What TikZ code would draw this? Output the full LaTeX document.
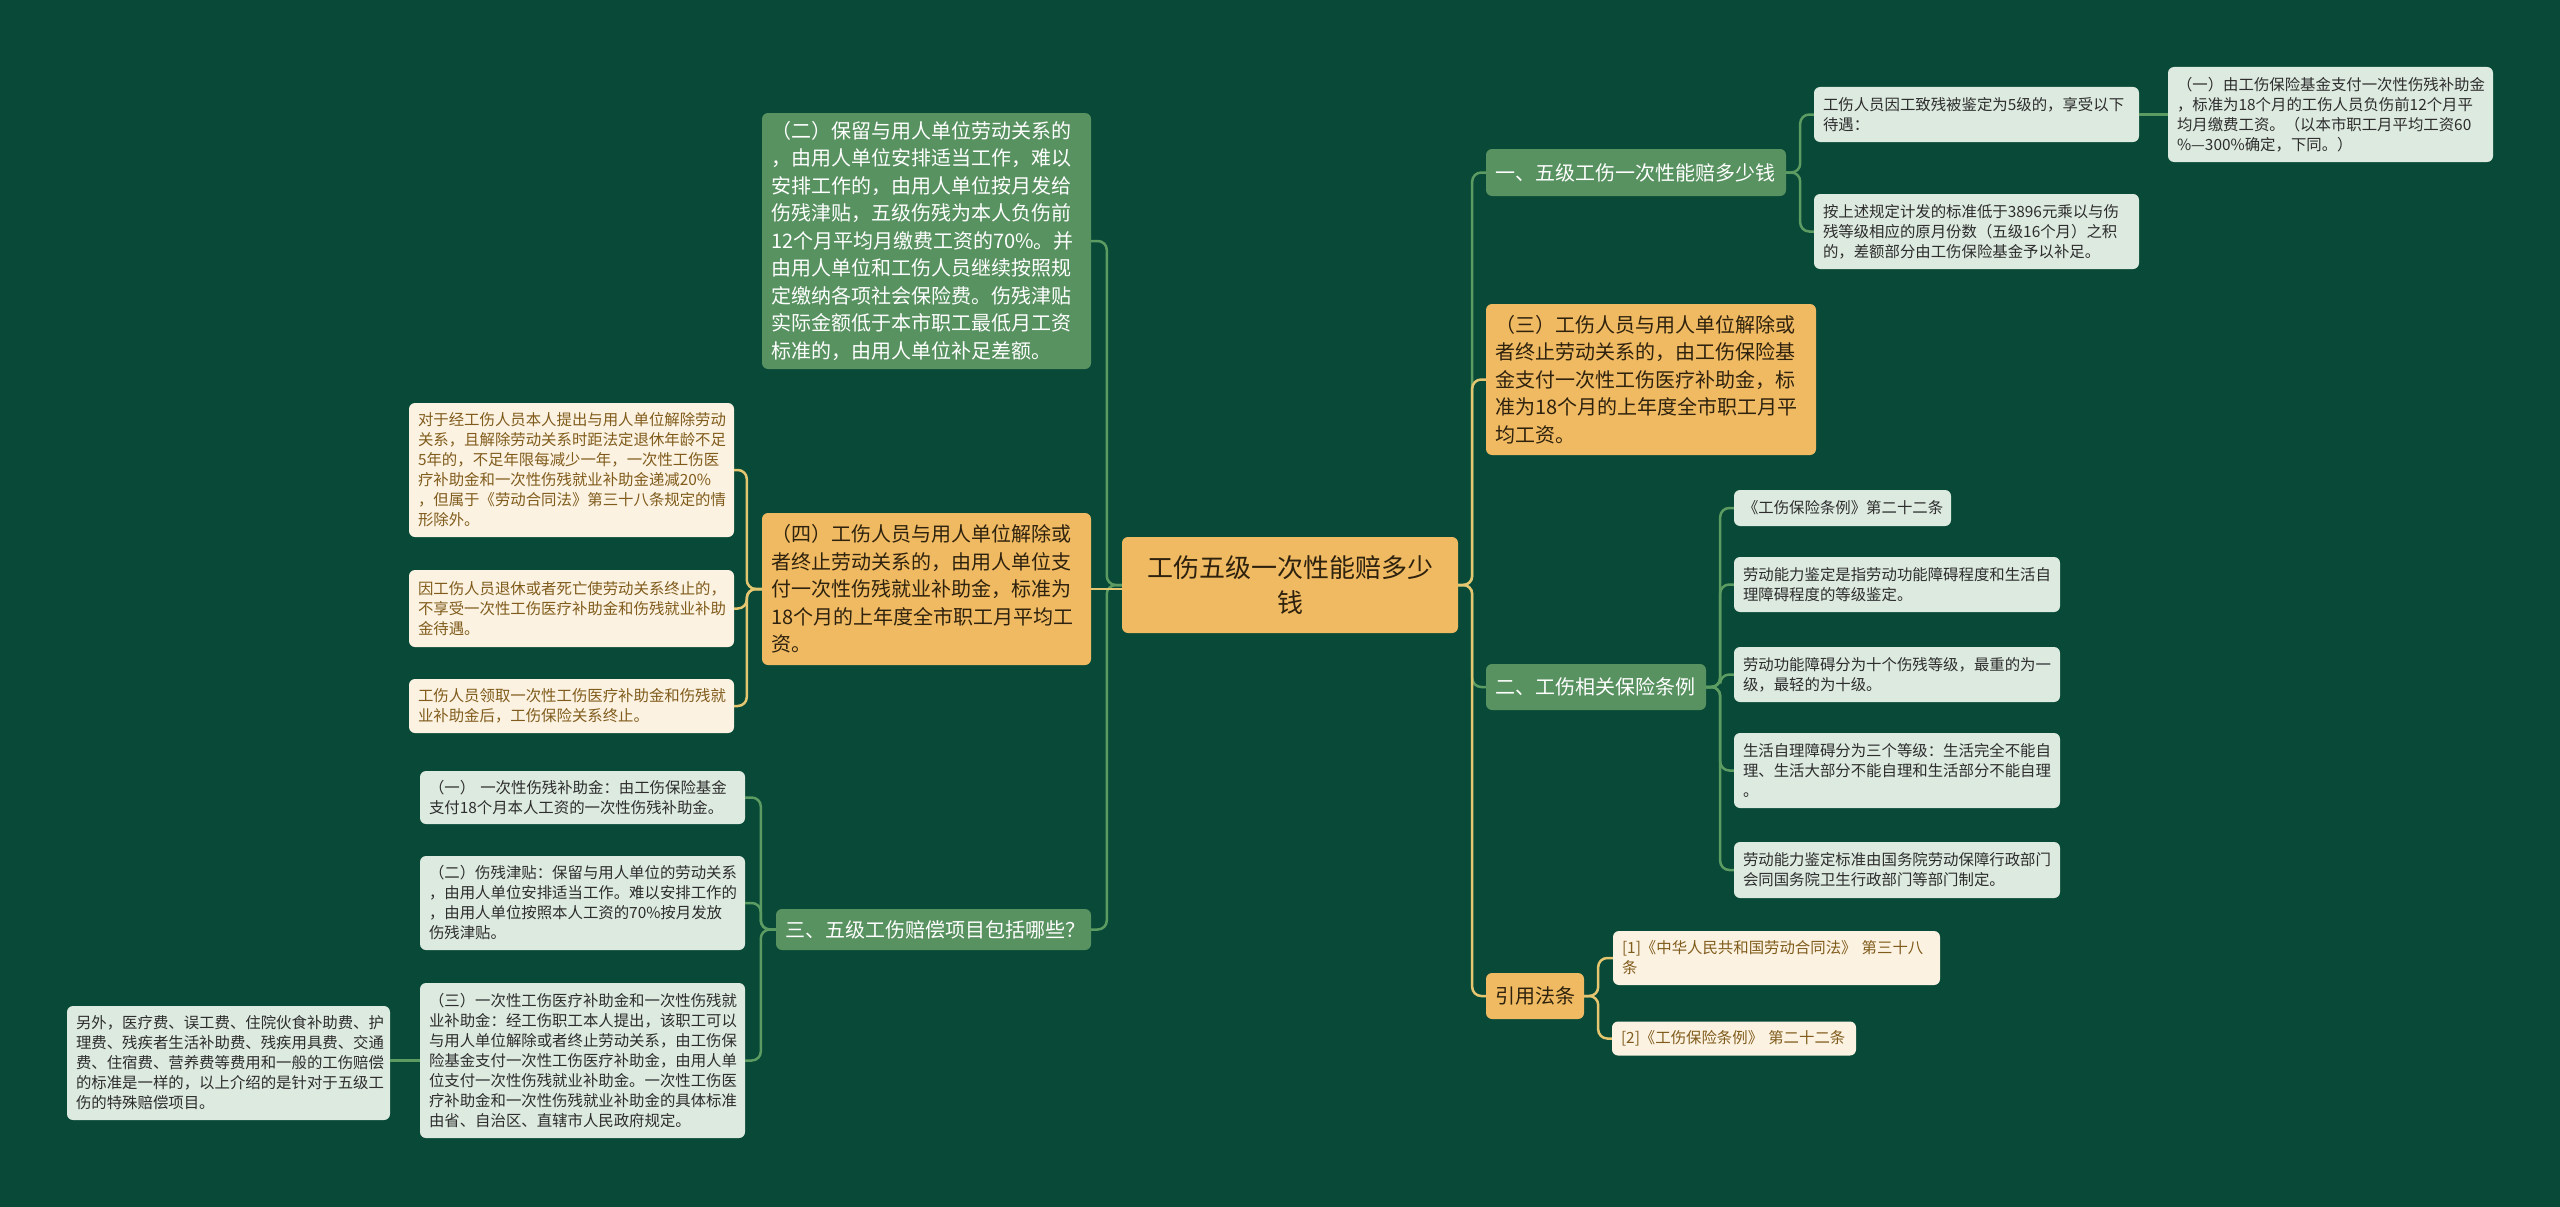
\documentclass[tikz,border=0pt]{standalone}
\usepackage{fontspec}
\setmainfont{Noto Sans CJK SC}
\definecolor{MapBg}{RGB}{8,73,55}
\definecolor{MapGreen}{RGB}{88,146,96}
\definecolor{MapOrange}{RGB}{240,186,98}
\definecolor{MapLight}{RGB}{221,234,224}
\definecolor{MapCream}{RGB}{252,242,226}
\definecolor{LineGreen}{RGB}{92,156,98}
\definecolor{LineGold}{RGB}{228,198,112}
\definecolor{InkBrown}{RGB}{46,34,14}
\definecolor{InkGold}{RGB}{128,92,28}
\definecolor{InkGray}{RGB}{45,45,45}
\usepackage{tikz}

\begin{document}
\begin{tikzpicture}[x=1pt, y=-1pt,
	box/.style={rounded corners=6pt, inner xsep=9pt, inner ysep=0pt, align=left},
	rootbox/.style={box, fill=MapOrange, text=InkBrown, align=center, font=\fontsize{26}{35}\selectfont},
	greenbox/.style={box, fill=MapGreen, text=white, font=\fontsize{20}{27.5}\selectfont},
	orangebox/.style={box, fill=MapOrange, text=InkBrown, font=\fontsize{20}{27.5}\selectfont},
	lightbox/.style={box, fill=MapLight, text=InkGray, font=\fontsize{15.4}{20}\selectfont},
	creambox/.style={box, fill=MapCream, text=InkGold, font=\fontsize{15.4}{20}\selectfont},
	conngreen/.style={draw=LineGreen, line width=2.5pt, rounded corners=9pt},
	conngold/.style={draw=LineGold, line width=2.5pt, rounded corners=9pt}]
	\useasboundingbox (0,0) rectangle (2560,1207);
	\fill[MapBg] (0,0) rectangle (2560,1207);

	\node[rootbox, text width=318pt, minimum height=96pt] (root) at (1290,585)
		{工伤五级一次性能赔多少\\钱};

	% rama derecha
	\node[greenbox, text width=282pt, minimum height=47pt] (g1) at (1636,172.5)
		{一、五级工伤一次性能赔多少钱};
	\node[lightbox, text width=307pt, minimum height=55pt] (r1a) at (1976.5,114.5)
		{工伤人员因工致残被鉴定为5级的，享受以下\\待遇：};
	\node[lightbox, text width=307pt, minimum height=75pt] (r1b) at (1976.5,231.5)
		{按上述规定计发的标准低于3896元乘以与伤\\残等级相应的原月份数（五级16个月）之积\\的，差额部分由工伤保险基金予以补足。};
	\node[lightbox, text width=307pt, minimum height=95pt] (r1c) at (2330.5,114.5)
		{（一）由工伤保险基金支付一次性伤残补助金\\，标准为18个月的工伤人员负伤前12个月平\\均月缴费工资。（以本市职工月平均工资60\\\%—300\%确定，下同。）};
	\node[orangebox, text width=312pt, minimum height=151pt] (o3) at (1651,379.5)
		{（三）工伤人员与用人单位解除或\\者终止劳动关系的，由工伤保险基\\金支付一次性工伤医疗补助金，标\\准为18个月的上年度全市职工月平\\均工资。};
	\node[greenbox, text width=202pt, minimum height=46pt] (g2) at (1596,687)
		{二、工伤相关保险条例};
	\node[lightbox, text width=199pt, minimum height=36pt] (r2a) at (1842.5,508)
		{《工伤保险条例》第二十二条};
	\node[lightbox, text width=308pt, minimum height=55pt] (r2b) at (1897,584.5)
		{劳动能力鉴定是指劳动功能障碍程度和生活自\\理障碍程度的等级鉴定。};
	\node[lightbox, text width=308pt, minimum height=55pt] (r2c) at (1897,674.5)
		{劳动功能障碍分为十个伤残等级，最重的为一\\级，最轻的为十级。};
	\node[lightbox, text width=308pt, minimum height=75pt] (r2d) at (1897,770.5)
		{生活自理障碍分为三个等级：生活完全不能自\\理、生活大部分不能自理和生活部分不能自理\\。};
	\node[lightbox, text width=308pt, minimum height=56pt] (r2e) at (1897,870)
		{劳动能力鉴定标准由国务院劳动保障行政部门\\会同国务院卫生行政部门等部门制定。};
	\node[orangebox, align=center, text width=80pt, minimum height=46pt] (law) at (1535,996)
		{引用法条};
	\node[creambox, text width=309pt, minimum height=54pt] (law1) at (1776.5,958)
		{[1]《中华人民共和国劳动合同法》~第三十八\\条};
	\node[creambox, text width=226pt, minimum height=34pt] (law2) at (1734,1038.5)
		{[2]《工伤保险条例》~第二十二条};

	% rama izquierda
	\node[greenbox, text width=311pt, minimum height=256pt] (g2l) at (926.5,241)
		{（二）保留与用人单位劳动关系的\\，由用人单位安排适当工作，难以\\安排工作的，由用人单位按月发给\\伤残津贴，五级伤残为本人负伤前\\12个月平均月缴费工资的70\%。并\\由用人单位和工伤人员继续按照规\\定缴纳各项社会保险费。伤残津贴\\实际金额低于本市职工最低月工资\\标准的，由用人单位补足差额。};
	\node[orangebox, text width=311pt, minimum height=152pt] (o4) at (926.5,589)
		{（四）工伤人员与用人单位解除或\\者终止劳动关系的，由用人单位支\\付一次性伤残就业补助金，标准为\\18个月的上年度全市职工月平均工\\资。};
	\node[creambox, text width=307pt, minimum height=134pt] (m1) at (571.5,470)
		{对于经工伤人员本人提出与用人单位解除劳动\\关系，且解除劳动关系时距法定退休年龄不足\\5年的，不足年限每减少一年，一次性工伤医\\疗补助金和一次性伤残就业补助金递减20\%\\，但属于《劳动合同法》第三十八条规定的情\\形除外。};
	\node[creambox, text width=307pt, minimum height=77pt] (m2) at (571.5,608.5)
		{因工伤人员退休或者死亡使劳动关系终止的，\\不享受一次性工伤医疗补助金和伤残就业补助\\金待遇。};
	\node[creambox, text width=307pt, minimum height=54pt] (m3) at (571.5,706)
		{工伤人员领取一次性工伤医疗补助金和伤残就\\业补助金后，工伤保险关系终止。};
	\node[greenbox, text width=297pt, minimum height=41pt] (g3) at (933.5,929.5)
		{三、五级工伤赔偿项目包括哪些？};
	\node[lightbox, text width=307pt, minimum height=53pt] (k1) at (582.5,797.5)
		{（一） 一次性伤残补助金：由工伤保险基金\\支付18个月本人工资的一次性伤残补助金。};
	\node[lightbox, text width=307pt, minimum height=94pt] (k2) at (582.5,903)
		{（二）伤残津贴：保留与用人单位的劳动关系\\，由用人单位安排适当工作。难以安排工作的\\，由用人单位按照本人工资的70\%按月发放\\伤残津贴。};
	\node[lightbox, text width=307pt, minimum height=155pt] (k3) at (582.5,1060.5)
		{（三）一次性工伤医疗补助金和一次性伤残就\\业补助金：经工伤职工本人提出，该职工可以\\与用人单位解除或者终止劳动关系，由工伤保\\险基金支付一次性工伤医疗补助金，由用人单\\位支付一次性伤残就业补助金。一次性工伤医\\疗补助金和一次性伤残就业补助金的具体标准\\由省、自治区、直辖市人民政府规定。};
	\node[lightbox, text width=305pt, minimum height=114pt] (k4) at (228.5,1063)
		{另外，医疗费、误工费、住院伙食补助费、护\\理费、残疾者生活补助费、残疾用具费、交通\\费、住宿费、营养费等费用和一般的工伤赔偿\\的标准是一样的，以上介绍的是针对于五级工\\伤的特殊赔偿项目。};

	% conectores
	\foreach \c in {g1,g2}
		\draw[conngreen] (root.east) -- ++(14,0) |- (\c.west);
	\foreach \c in {o3,law}
		\draw[conngold] (root.east) -- ++(14,0) |- (\c.west);
	\foreach \c in {g2l,g3}
		\draw[conngreen] (root.west) -- ++(-15,0) |- (\c.east);
	\draw[conngold] (o4.east) -- (o4.east -| root.west);
	\foreach \c in {r1a,r1b}
		\draw[conngreen] (g1.east) -- ++(14,0) |- (\c.west);
	\draw[conngreen] (r1a.east) -- (r1c.west);
	\foreach \c in {r2a,r2b,r2c,r2d,r2e}
		\draw[conngreen] (g2.east) -- ++(14,0) |- (\c.west);
	\foreach \c in {law1,law2}
		\draw[conngold] (law.east) -- ++(14,0) |- (\c.west);
	\foreach \c in {m1,m2,m3}
		\draw[conngold] (o4.west) -- ++(-15,0) |- (\c.east);
	\foreach \c in {k1,k2,k3}
		\draw[conngreen] (g3.west) -- ++(-15,0) |- (\c.east);
	\draw[conngreen] (k3.west) -- (k3.west -| k4.east);
\end{tikzpicture}
\end{document}
